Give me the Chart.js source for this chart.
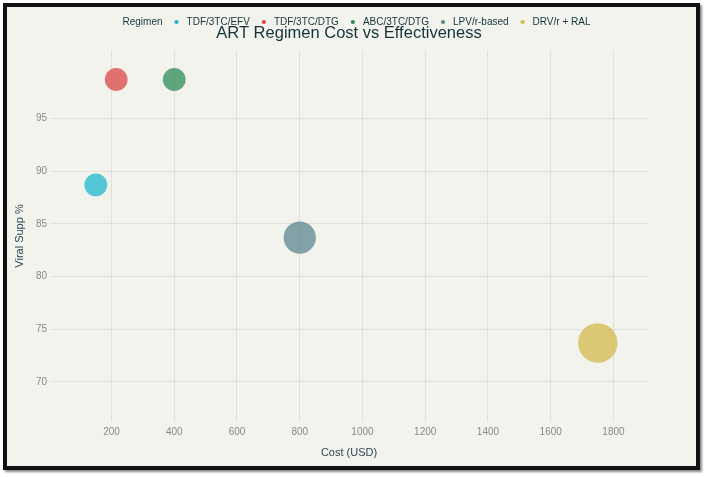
<!DOCTYPE html>
<html>
<head>
<meta charset="utf-8">
<script src="https://cdn.jsdelivr.net/npm/chart.js"></script>
<style>
  body { margin: 0; background: #fff; }
  .frame {
    position: absolute; left: 3px; top: 3px;
    width: 689px; height: 459px;
    border: 4px solid #111;
    background: #f3f3ee;
    box-shadow: 2px 2px 2px rgba(0, 0, 0, 0.45);
  }
  canvas { display: block; }
</style>
</head>
<body>
<div class="frame"><canvas id="graficoRegimen" width="689" height="459"></canvas></div>
<script>
const regimens = ['TDF/3TC/EFV', 'TDF/3TC/DTG', 'ABC/3TC/DTG', 'LPV/r-based', 'DRV/r + RAL'];
const costUsd = [150, 215, 400, 800, 1750];
const viralSupp = [88.7, 98.7, 98.7, 83.7, 73.7];
const bubbleSize = [1, 1, 1, 2, 3];
const xTickValues = [200, 400, 600, 800, 1000, 1200, 1400, 1600, 1800];
const yTickValues = [70, 75, 80, 85, 90, 95];

const colores = ['#1FB8CD', '#DB4545', '#2E8B57', '#5D878F', '#D2BA4C'];
const fontFamily = '"Liberation Sans", Arial, Helvetica, sans-serif';

function withAlpha(hex, a) {
    const n = parseInt(hex.slice(1), 16);
    return `rgba(${n >> 16}, ${(n >> 8) & 255}, ${n & 255}, ${a})`;
}

const datasets = regimens.map((nombre, i) => ({
    label: nombre,
    data: [{ x: costUsd[i], y: viralSupp[i], r: 11.4 * Math.sqrt(bubbleSize[i]) }],
    backgroundColor: withAlpha(colores[i], 0.75),
    borderWidth: 0,
    pointStyle: 'circle'
}));

const graphic = document.getElementById('graficoRegimen');

const chart = new Chart(graphic, {
    type: 'bubble',
    data: { datasets },
    options: {
        responsive: false,
        animation: false,
        devicePixelRatio: 1,
        layout: { padding: { left: 0, right: 48, top: 1, bottom: 0 } },
        plugins: {
            tooltip: { enabled: false },
            legend: {
                position: 'top',
                fullSize: false,
                labels: {
                    usePointStyle: true,
                    boxHeight: 3,
                    boxWidth: 10,
                    padding: 9,
                    color: '#13343B',
                    font: { family: fontFamily, size: 10 },
                    generateLabels: (c) => {
                        const items = Chart.defaults.plugins.legend.labels.generateLabels(c);
                        items.forEach(it => { it.lineWidth = 0; it.strokeStyle = 'rgba(0,0,0,0)'; it.fillStyle = colores[it.datasetIndex]; });
                        // legend title sits inline, left of the items
                        items.unshift({
                            text: 'Regimen',
                            fillStyle: 'rgba(0,0,0,0)',
                            strokeStyle: 'rgba(0,0,0,0)',
                            lineWidth: 0,
                            pointStyle: 'circle',
                            hidden: false,
                            datasetIndex: -1,
                            fontColor: '#13343B'
                        });
                        return items;
                    }
                }
            },
            title: {
                display: true,
                text: 'ART Regimen Cost vs Effectiveness',
                fullSize: false,
                weight: 500,
                color: '#13343B',
                font: { family: fontFamily, size: 16.5, weight: 'normal', lineHeight: 1 },
                padding: { top: -12, bottom: 8.5 }
            }
        },
        scales: {
            x: {
                type: 'linear',
                min: 4,
                max: 1910,
                afterBuildTicks: (s) => { s.ticks = xTickValues.map(v => ({ value: v })); },
                afterFit: (s) => { s.height = 44; },
                grid: { color: 'rgba(0,0,0,0.08)', drawTicks: false },
                border: { display: false },
                ticks: {
                    padding: 4,
                    color: '#888',
                    font: { family: fontFamily, size: 10 },
                    callback: (v) => String(v)
                },
                title: {
                    display: true,
                    text: 'Cost (USD)',
                    color: '#2b4650',
                    font: { family: fontFamily, size: 11 },
                    padding: { top: 0, bottom: 6.4 }
                }
            },
            y: {
                type: 'linear',
                min: 66.2,
                max: 101.5,
                afterBuildTicks: (s) => { s.ticks = yTickValues.map(v => ({ value: v })); },
                afterFit: (s) => { s.width = 43; },
                grid: { color: 'rgba(0,0,0,0.08)', drawTicks: false },
                border: { display: false },
                ticks: {
                    padding: 3,
                    color: '#888',
                    font: { family: fontFamily, size: 10 },
                    callback: (v) => String(v)
                },
                title: {
                    display: true,
                    text: 'Viral Supp %',
                    color: '#2b4650',
                    font: { family: fontFamily, size: 11 },
                    padding: { top: 6, bottom: 0 }
                }
            }
        }
    }
});
</script>
</body>
</html>
